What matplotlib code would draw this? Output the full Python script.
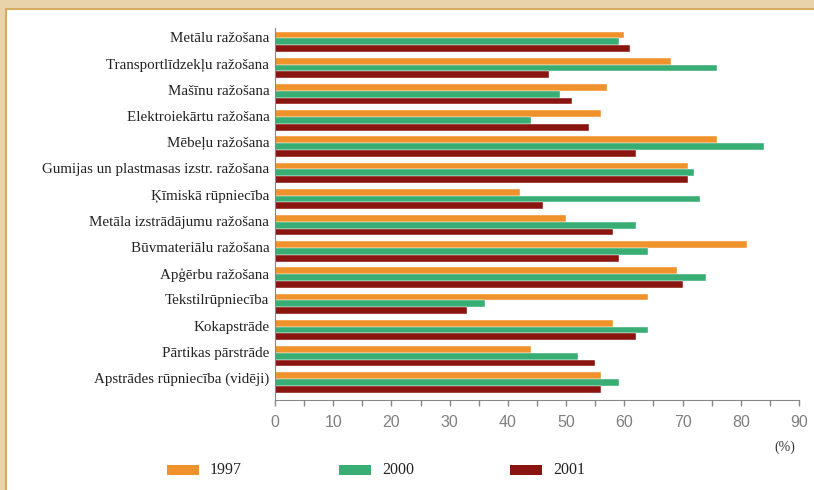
import numpy as np
import matplotlib.pyplot as plt
from matplotlib.patches import Rectangle

# nozares (no augšas uz leju)
categories = [
    'Metālu ražošana',
    'Transportlīdzekļu ražošana',
    'Mašīnu ražošana',
    'Elektroiekārtu ražošana',
    'Mēbeļu ražošana',
    'Gumijas un plastmasas izstr. ražošana',
    'Ķīmiskā rūpniecība',
    'Metāla izstrādājumu ražošana',
    'Būvmateriālu ražošana',
    'Apģērbu ražošana',
    'Tekstilrūpniecība',
    'Kokapstrāde',
    'Pārtikas pārstrāde',
    'Apstrādes rūpniecība (vidēji)',
]
years = ['1997', '2000', '2001']
vals_1997 = [60, 68, 57, 56, 76, 71, 42, 50, 81, 69, 64, 58, 44, 56]
vals_2000 = [59, 76, 49, 44, 84, 72, 73, 62, 64, 74, 36, 64, 52, 59]
vals_2001 = [61, 47, 51, 54, 62, 71, 46, 58, 59, 70, 33, 62, 55, 56]
x_ticks = [0, 10, 20, 30, 40, 50, 60, 70, 80, 90]

colors = ['#EF922C', '#38AD74', '#8A140F']
tan = '#E8D3AA'
tan_line = '#D6AC62'

fig = plt.figure(figsize=(8.14, 4.90), dpi=100)
fig.patch.set_facecolor('white')

# rāmis augšā un kreisajā pusē
fig.patches.append(Rectangle((0, 1 - 10 / 490), 1, 10 / 490, transform=fig.transFigure,
                             facecolor=tan, edgecolor='none', zorder=0))
fig.patches.append(Rectangle((0, 0), 7 / 814, 1, transform=fig.transFigure,
                             facecolor=tan, edgecolor='none', zorder=0))
fig.patches.append(Rectangle((5 / 814, 0), 2 / 814, 1 - 8 / 490, transform=fig.transFigure,
                             facecolor=tan_line, edgecolor='none', zorder=1))
fig.patches.append(Rectangle((5 / 814, 1 - 10 / 490), 1, 2 / 490, transform=fig.transFigure,
                             facecolor=tan_line, edgecolor='none', zorder=1))

ax = fig.add_axes([275 / 814, 1 - 400 / 490, 524 / 814, 372 / 490])

y = np.arange(len(categories))
h = 0.26
for k, vals in enumerate([vals_1997, vals_2000, vals_2001]):
    ax.barh(y - h + k * h, vals, height=h, color=colors[k], edgecolor='white',
            linewidth=0.3, label=years[k])

ax.set_xlim(0, 90)
ax.set_ylim(13.67, -0.53)
ax.set_xticks(np.arange(0, 91, 5))
ax.set_xticklabels([str(v) if v in x_ticks else '' for v in np.arange(0, 91, 5)],
                   fontsize=11.5, color='#808080', family='Liberation Sans')
ax.tick_params(axis='x', length=4, width=1, color='#888888', pad=7)
ax.set_yticks(y - 0.17)
ax.set_yticklabels(categories, fontsize=10.8, family='Liberation Serif', color='#222222')
ax.tick_params(axis='y', length=0, pad=4)

for s in ['top', 'right']:
    ax.spines[s].set_visible(False)
ax.spines['left'].set_color('#888888')
ax.spines['bottom'].set_color('#888888')

fig.text(785 / 814, 1 - 447 / 490, '(%)', fontsize=10, family='Liberation Serif',
         color='#333333', ha='center', va='center')

# leģenda
legend_x = [167, 339, 510]
for k in range(3):
    fig.patches.append(Rectangle((legend_x[k] / 814, 1 - 475 / 490), 32 / 814, 10 / 490,
                                 transform=fig.transFigure, facecolor=colors[k],
                                 edgecolor='none'))
    fig.text((legend_x[k] + 43) / 814, 1 - 470 / 490, years[k], fontsize=11.5,
             family='Liberation Serif', color='#222222', ha='left', va='center')

fig.savefig('out.png', dpi=100)
